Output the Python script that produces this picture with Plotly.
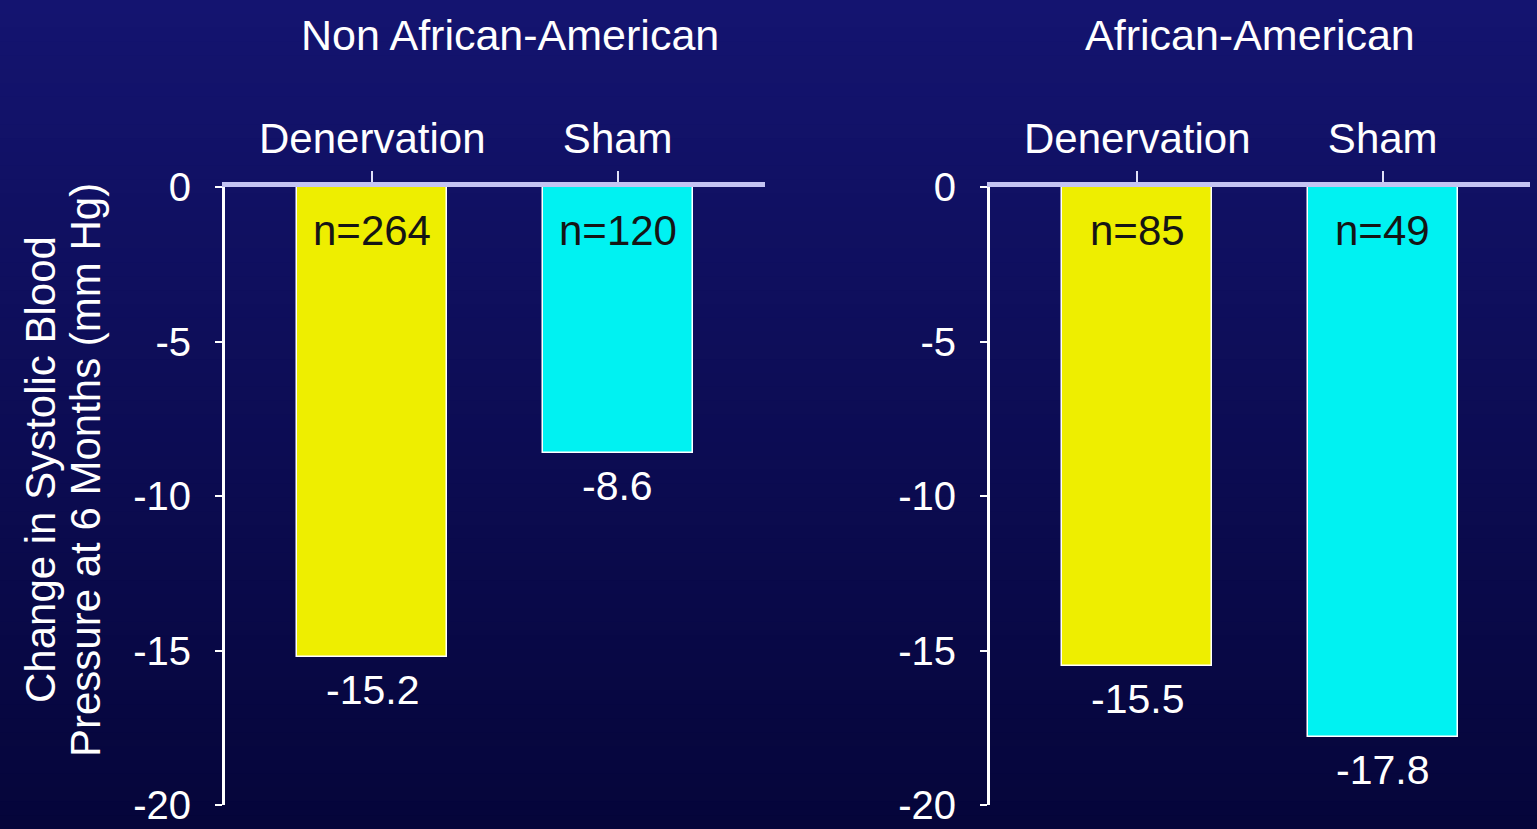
import plotly.graph_objects as go

# Data
groups = ["Non African-American", "African-American"]
categories = ["Denervation", "Sham"]
non_aa_change = [-15.2, -8.6]
aa_change = [-15.5, -17.8]
non_aa_n = [264, 120]
aa_n = [85, 49]
bar_colors = ["#eeee00", "#00f2f2"]
y_tickvals = [0, -5, -10, -15, -20]
y_ticktext = ["0", "-5", "-10", "-15", "-20"]
y_title_lines = ["Change in Systolic Blood", "Pressure at 6 Months (mm Hg)"]

FONT = "Liberation Sans, Arial, Helvetica, sans-serif"
W, H = 1537, 829

fig = go.Figure()

panels = [
    ("x", "y", non_aa_change, non_aa_n),
    ("x2", "y2", aa_change, aa_n),
]
for xa, ya, vals, ns in panels:
    fig.add_trace(go.Bar(
        x=categories, y=vals, xaxis=xa, yaxis=ya,
        width=0.61,
        marker=dict(color=bar_colors, line=dict(color="#ffffff", width=1.5)),
        showlegend=False, hoverinfo="skip",
    ))
    # sample sizes inside bar tops, values below bar bottoms
    for cat, v, n in zip(categories, vals, ns):
        fig.add_annotation(x=cat, y=0, xref=xa, yref=ya, text=f"n={n}",
                           showarrow=False, yshift=-43,
                           xanchor="center", yanchor="middle",
                           font=dict(family=FONT, size=42, color="#151515"))
        fig.add_annotation(x=cat, y=v, xref=xa, yref=ya, text=f"{v:.1f}",
                           showarrow=False, yshift=-33,
                           xanchor="center", yanchor="middle",
                           font=dict(family=FONT, size=41, color="#ffffff"))

# Background gradient strips
top_rgb = (20, 20, 112)
bot_rgb = (5, 5, 58)
n_strips = 60
shapes = []
for i in range(n_strips):
    t = i / (n_strips - 1)
    r = round(top_rgb[0] + (bot_rgb[0] - top_rgb[0]) * t)
    g = round(top_rgb[1] + (bot_rgb[1] - top_rgb[1]) * t)
    b = round(top_rgb[2] + (bot_rgb[2] - top_rgb[2]) * t)
    y1 = 1 - i / n_strips
    y0 = 1 - (i + 1) / n_strips
    shapes.append(dict(type="rect", xref="paper", yref="paper",
                       x0=0, x1=1, y0=y0 - 0.002, y1=y1,
                       fillcolor=f"rgb({r},{g},{b})", line=dict(width=0),
                       layer="below"))

ydom = [(H - 805) / H, (H - 187) / H]
x1dom = [225 / W, 765 / W]
x2dom = [990 / W, 1530 / W]

xaxis_common = dict(
    type="category", side="top", range=[-0.6, 1.6], automargin=False,
    showline=True, linecolor="#c4c4f2", linewidth=5,
    ticks="outside", ticklen=11, tickwidth=2, tickcolor="#e0e0f8",
    tickfont=dict(family=FONT, size=42, color="#ffffff"),
    ticklabelstandoff=1, showgrid=False, zeroline=False, fixedrange=True,
)
yaxis_common = dict(
    range=[-20, 0], domain=ydom, automargin=False,
    showline=True, linecolor="#ffffff", linewidth=3,
    ticks="outside", ticklen=7, tickwidth=2, tickcolor="#ffffff",
    tickvals=y_tickvals, ticktext=y_ticktext,
    tickfont=dict(family=FONT, size=40, color="#ffffff"),
    ticklabelstandoff=16, showgrid=False, zeroline=False, fixedrange=True,
)

fig.update_layout(
    width=W, height=H,
    margin=dict(l=0, r=0, t=0, b=0, pad=0, autoexpand=False),
    paper_bgcolor="rgb(8,8,70)", plot_bgcolor="rgba(0,0,0,0)",
    shapes=shapes,
    xaxis=dict(xaxis_common, domain=x1dom, anchor="y"),
    yaxis=dict(yaxis_common, anchor="x"),
    xaxis2=dict(xaxis_common, domain=x2dom, anchor="y2"),
    yaxis2=dict(yaxis_common, anchor="x2"),
    bargap=0,
)

# Panel titles
for name, cx in zip(groups, [510, 1250]):
    fig.add_annotation(x=cx / W, y=1 - 35 / H, xref="paper", yref="paper",
                       xanchor="center", yanchor="middle",
                       text=name, showarrow=False,
                       font=dict(family=FONT, size=43, color="#ffffff"))

# Shared y-axis title, two tightly spaced rotated lines
for line, cx in zip(y_title_lines, [40, 85]):
    fig.add_annotation(x=cx / W, y=1 - 470 / H, xref="paper", yref="paper",
                       xanchor="center", yanchor="middle",
                       text=line, textangle=-90, showarrow=False,
                       font=dict(family=FONT, size=42, color="#ffffff"))

fig.write_html("out.html")
